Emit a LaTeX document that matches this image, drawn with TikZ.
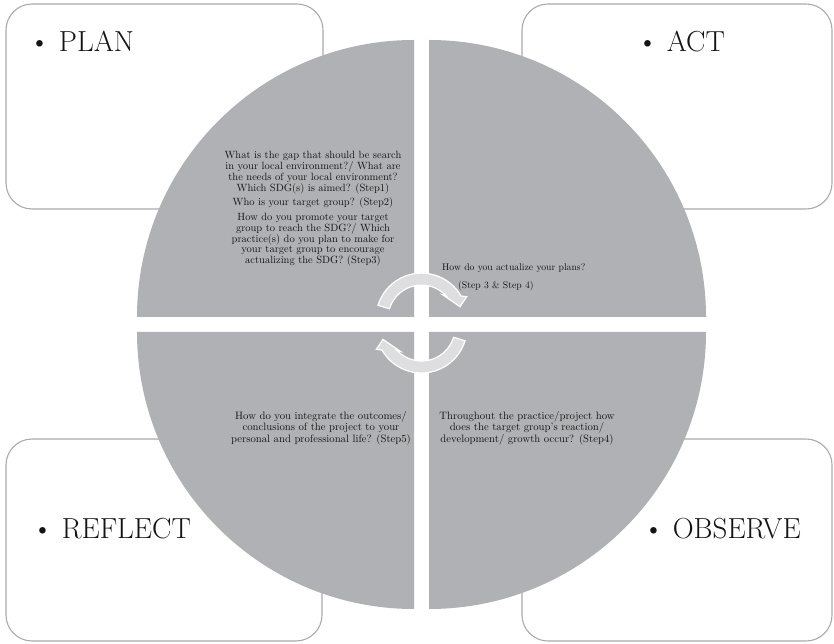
\documentclass[tikz,border=0pt]{standalone}
\definecolor{quadfill}{RGB}{176,177,180}
\definecolor{boxline}{RGB}{170,170,172}
\definecolor{arrowfill}{RGB}{222,222,224}
\definecolor{txt}{RGB}{20,20,20}
\tikzset{
  cornerbox/.style={draw=boxline, line width=1.1pt, fill=white, rounded corners=26pt, inner sep=0pt},
  biglabel/.style={font={\fontsize{29}{33}\selectfont}, text=black!92, inner sep=0pt},
  qtext/.style={font={\fontsize{10.5}{10.8}\selectfont}, text=txt, inner sep=0pt, align=center},
  qtextb/.style={font={\fontsize{10.7}{11.3}\selectfont}, text=txt, inner sep=0pt, align=center},
  qtexts/.style={font={\fontsize{9.7}{11}\selectfont}, text=txt, inner sep=0pt},
  quadrant/.style={fill=quadfill, draw=none},
  cycarrow/.style={fill=arrowfill, draw=white, line width=1.2pt, line join=miter}
}
\begin{document}
\begin{tikzpicture}[x=1pt,y=1pt]
\useasboundingbox (0,0) rectangle (834,643);
% corner boxes
\node[cornerbox, minimum width=317pt, minimum height=205pt] (planbox) at (164.5,536.5) {};
\node[cornerbox, minimum width=310pt, minimum height=205pt] (actbox) at (677,536.5) {};
\node[cornerbox, minimum width=316pt, minimum height=202pt] (reflectbox) at (164,103) {};
\node[cornerbox, minimum width=310pt, minimum height=202pt] (observebox) at (677,103) {};
% labels
\node[biglabel, anchor=base west] (plan) at (29,591) {\textbullet\ PLAN};
\node[biglabel, anchor=base west] (act) at (637,591) {\textbullet\ ACT};
\node[biglabel, anchor=base west] (reflect) at (32,105) {\textbullet\ REFLECT};
\node[biglabel, anchor=base west] (observe) at (643,105) {\textbullet\ OBSERVE};
% quadrants
\fill[quadrant] (414,326) -- (137,326) arc[start angle=180, end angle=90, radius=277] -- cycle;
\fill[quadrant] (429,326) -- (429,603) arc[start angle=90, end angle=0, radius=277] -- cycle;
\fill[quadrant] (429,311) -- (706,311) arc[start angle=0, end angle=-90, radius=277] -- cycle;
\fill[quadrant] (414,311) -- (414,34) arc[start angle=-90, end angle=-180, radius=277] -- cycle;
% quadrant texts (base anchor = last line)
\node[qtext, anchor=base] (q1a) at (313,451.6) {What is the gap that should be search\\in your local environment?/ What are\\the needs of your local environment?\\Which SDG(s) is aimed? (Step1)};
\node[qtext, anchor=base] (q1b) at (313,437) {Who is your target group? (Step2)};
\node[qtext, anchor=base] (q1c) at (313,379.3) {How do you promote your target\\group to reach the SDG?/ Which\\practice(s) do you plan to make for\\your target group to encourage\\actualizing the SDG? (Step3)};
\node[qtexts, anchor=base west] (q2a) at (442,372) {How do you actualize your plans?};
\node[qtexts, anchor=base west] (q2b) at (458,354) {(Step 3 \& Step 4)};
\node[qtextb, anchor=base] (q3) at (321,201) {How do you integrate the outcomes/\\conclusions of the project to your\\personal and professional life? (Step5)};
\node[qtextb, anchor=base] (q4) at (527,201) {Throughout the practice/project how\\does the target group's reaction/\\development/ growth occur? (Step4)};
% cycle arrows
\begin{scope}[shift={(421.5,324.4)}]
\draw[cycarrow] (163:45.5) arc[start angle=163, end angle=29.8, radius=45.5]
  -- (45.2,21.9) -- (38.5,11.9) -- (21.5,23.6) -- (42.5:33.5)
  arc[start angle=42.5, end angle=163, radius=33.5] -- cycle;
\end{scope}
\begin{scope}[shift={(421.5,315.5)}, rotate=180]
\draw[cycarrow] (163:45.5) arc[start angle=163, end angle=29.8, radius=45.5]
  -- (45.2,21.9) -- (38.5,11.9) -- (21.5,23.6) -- (42.5:33.5)
  arc[start angle=42.5, end angle=163, radius=33.5] -- cycle;
\end{scope}
\end{tikzpicture}
\end{document}
